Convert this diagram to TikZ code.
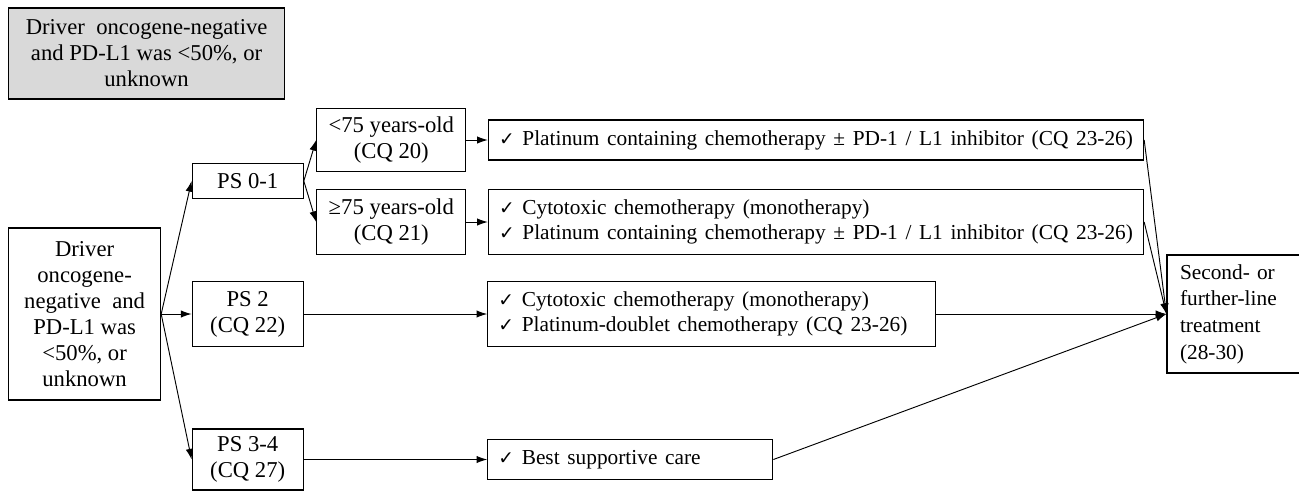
\documentclass[tikz,border=0pt]{standalone}
\usepackage{fontspec}
\setmainfont{Liberation Serif}
\newfontfamily\symfont{DejaVu Sans}
\usetikzlibrary{trees,positioning,arrows.meta}
\newcommand{\chk}{{\symfont\fontsize{14}{14}\selectfont ✓}}
\newcommand{\boxfont}{\fontsize{17}{19.5}\selectfont}
\newcommand{\planfont}{\fontsize{16}{19}\selectfont}

\begin{document}
\begin{tikzpicture}[x=0.75pt, y=0.75pt, grow'=right,
  every node/.style={draw, line width=0.9pt, anchor=west, align=center,
    inner ysep=2pt, font=\boxfont},
  ps/.style={minimum width=83.25pt},
  age/.style={minimum width=111.75pt},
  plan/.style={align=left, inner xsep=8pt, font=\planfont,
    execute at begin node={\spaceskip=0.36em\relax}},
  flow/.style={line width=0.7pt, -{Latex[length=8pt, width=5.5pt]}},
  edge from parent/.style={draw, flow},
  edge from parent path={(\tikzparentnode.east) -- (\tikzchildnode.west)},
  level 1/.style={level distance=80.25pt, sibling distance=103.5pt},
  level 2/.style={level distance=179.625pt, sibling distance=61.5pt},
  level 3/.style={level distance=72.375pt}]
  \useasboundingbox (0,0) rectangle (1299,-494);

  \node[fill=gray!30, minimum width=207pt, minimum height=68.25pt] (note) at (8,-53.5)
    {Driver\ \ oncogene-negative\\and PD-L1 was <50\%, or\\unknown};

  \node[minimum width=114pt, minimum height=129pt] (root) at (8,-314)
    {Driver\\oncogene-\\negative\ \ and\\PD-L1 was\\<50\%, or\\unknown}
    child[yshift=-3.75pt] {node[ps, minimum height=26.25pt] (ps01) {PS 0-1}
      child[xshift=-128.25pt] {node[age, minimum height=47.25pt] (young) {<75 years-old\\(CQ 20)}
        child {node[plan, minimum width=490.5pt, minimum height=30pt] (platY)
          {\chk\ Platinum containing chemotherapy ± PD-1 / L1 inhibitor (CQ 23-26)}}
      }
      child[xshift=-128.25pt] {node[age, minimum height=48.75pt] (old) {≥75 years-old\\(CQ 21)}
        child {node[plan, minimum width=490.5pt, minimum height=48.75pt] (cytoOld)
          {\chk\ Cytotoxic chemotherapy (monotherapy)\\
           \chk\ Platinum containing chemotherapy ± PD-1 / L1 inhibitor (CQ 23-26)}}
      }
    }
    child {node[ps, minimum height=48.75pt] (ps2) {PS 2\\(CQ 22)}
      child {node[plan, text width=320pt, minimum height=48.75pt] (cytoPS2)
        {\chk\ Cytotoxic chemotherapy (monotherapy)\\
         \chk\ Platinum-doublet chemotherapy (CQ 23-26)}}
    }
    child[yshift=-5.625pt] {node[ps, minimum height=45.75pt] (ps34) {PS 3-4\\(CQ 27)}
      child {node[plan, text width=197.75pt, minimum height=30pt] (bsc)
        {\chk\ Best supportive care}}
    };

  \node[right=172.5pt of cytoPS2, minimum height=88.5pt, text width=80pt,
    inner xsep=9.75pt, align=left, font=\fontsize{16}{20}\selectfont] (second)
    {Second- or\\further-line\\treatment\\(28-30)};

  \foreach \n in {platY, cytoOld, cytoPS2, bsc}
    \draw[flow] (\n.east) -- (second.west);
\end{tikzpicture}
\end{document}
